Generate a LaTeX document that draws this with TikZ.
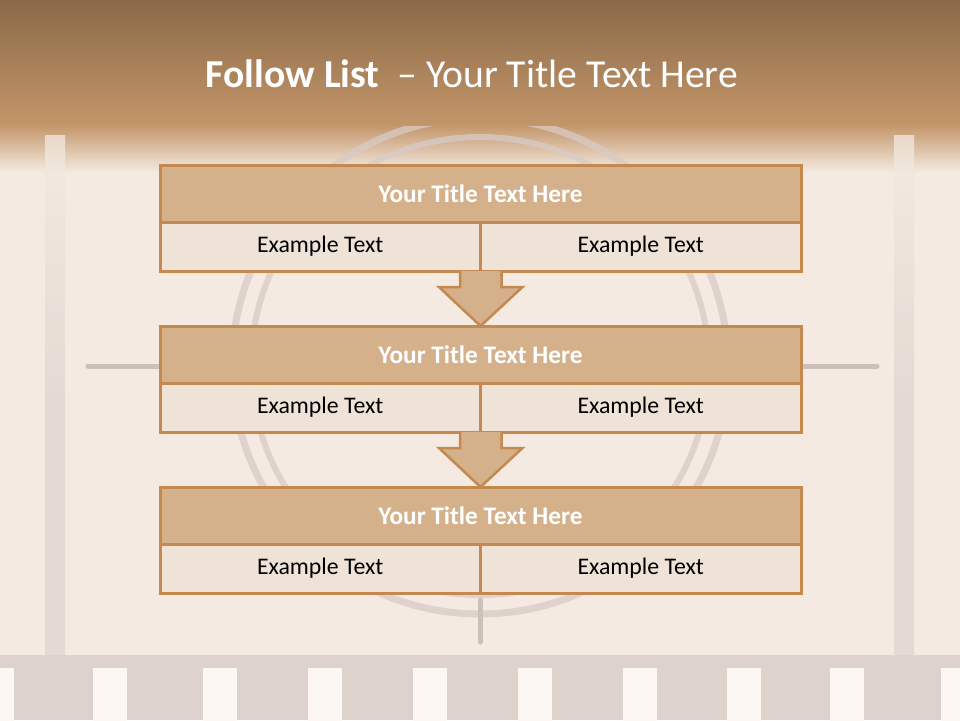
\documentclass[tikz,border=0pt]{standalone}
\usepackage{fontspec}
\setmainfont{Carlito}
\usetikzlibrary{calc}
\definecolor{bg}{HTML}{F4EAE1}
\definecolor{hdA}{HTML}{8B6A48}
\definecolor{hdB}{HTML}{C4966A}
\definecolor{barc}{HTML}{E0D5CF}
\definecolor{ringc}{HTML}{D8CBC6}
\definecolor{linec}{HTML}{CDBFBA}
\definecolor{bandc}{HTML}{DDD2CC}
\definecolor{holec}{HTML}{FCF7F3}
\definecolor{bord}{HTML}{C4894F}
\definecolor{tfill}{HTML}{D5B18B}
\definecolor{cfill}{HTML}{EFE3D8}
\begin{document}
\begin{tikzpicture}[x=1pt,y=-1pt,
  titlerow/.style={draw=bord, line width=3, fill=tfill, minimum width=641, minimum height=57, inner sep=0, outer sep=0, text=white, font=\fontsize{25.3}{30}\selectfont\bfseries},
  cellrow/.style={draw=bord, line width=3, fill=cfill, minimum width=320.5, minimum height=49, inner sep=0, outer sep=0, text=black, font=\fontsize{23.8}{28}\selectfont},
  blockarrow/.style={fill=tfill},
  blockedge/.style={draw=bord, line width=2.5, line join=miter}]
\useasboundingbox (0,0) rectangle (960,720);
% background
\fill[bg] (0,0) rectangle (960,720);
% header
\shade[top color=hdA, bottom color=hdB] (0,0) rectangle (960,126);
\shade[top color=hdB, bottom color=bg] (0,125) rectangle (960,172);
% film leader (faint, drawn over the header fade)
\begin{scope}[opacity=0.75]
\clip (0,126) rectangle (960,720);
\shade[top color=bg, bottom color=barc, middle color=barc] (45,135) rectangle (65,660);
\shade[top color=bg, bottom color=barc, middle color=barc] (894,135) rectangle (914,660);
\draw[ringc, line width=7] (480,366) circle (248);
\draw[ringc, line width=6] (480,366) circle (229);
\end{scope}
\draw[linec, line width=5, line cap=round] (88,366) -- (877,366);
\draw[linec, line width=5, line cap=round] (480,600) -- (480,642);
\fill[bandc] (0,655) rectangle (960,720);
\foreach \hx in {-20,93,203,308,413,518,623,727,830,941}
  \fill[holec] (\hx,668) rectangle (\hx+34,722);
\node[text=white, font=\fontsize{39.6}{44}\selectfont, anchor=base] (title) at (472,87) {\textbf{Follow List}\hspace{0.45em}– Your Title Text Here};
% boxes
\foreach \i/\ty in {1/165,2/326,3/487} {
  \node[titlerow, anchor=north] (t\i) at (480.5,\ty) {Your Title Text Here};
  \node[cellrow, anchor=north west] (c\i a) at (t\i.south west) {Example Text};
  \node[cellrow, anchor=north east] (c\i b) at (t\i.south east) {Example Text};
}
% arrows
\foreach \i/\j in {1/2,2/3} {
  \fill[blockarrow] ($(c\i a.south east)+(-20.5,0)$) -- ++(0,16) -- ++(-21,0) -- (t\j.north) -- ($(c\i a.south east)+(42,16)$) -- ++(-21,0) -- ++(0,-16) -- cycle;
  \draw[blockedge] ($(c\i a.south east)+(-20.5,0)$) -- ++(0,16) -- ++(-21,0) -- (t\j.north) -- ($(c\i a.south east)+(42,16)$) -- ++(-21,0) -- ++(0,-16);
}
\end{tikzpicture}
\end{document}
